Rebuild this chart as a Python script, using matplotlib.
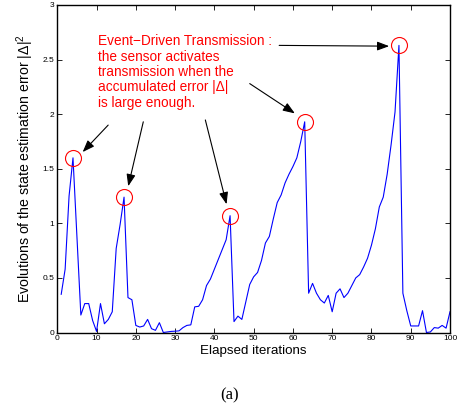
import matplotlib
matplotlib.use("Agg")
import matplotlib.pyplot as plt

plt.rcParams['font.family'] = ['Liberation Sans', 'DejaVu Sans']
plt.rcParams['mathtext.fontset'] = 'custom'
plt.rcParams['mathtext.rm'] = 'Liberation Sans'
plt.rcParams['mathtext.it'] = 'Liberation Sans:italic'

# ---- data ----
iterations = list(range(1, 101))
error_sq = [
    0.35, 0.58, 1.25, 1.60, 0.88, 0.16, 0.265, 0.265, 0.11, 0.01,
    0.265, 0.08, 0.12, 0.19, 0.77, 0.99, 1.24, 0.32, 0.30, 0.065,
    0.05, 0.06, 0.12, 0.035, 0.02, 0.09, 0.0, 0.005, 0.01, 0.012,
    0.015, 0.045, 0.065, 0.07, 0.235, 0.24, 0.30, 0.43, 0.49, 0.58,
    0.67, 0.76, 0.85, 1.07, 0.10, 0.15, 0.12, 0.28, 0.44, 0.51,
    0.55, 0.66, 0.82, 0.88, 1.04, 1.19, 1.26, 1.37, 1.45, 1.52,
    1.60, 1.75, 1.93, 0.36, 0.45, 0.36, 0.30, 0.27, 0.34, 0.19,
    0.36, 0.40, 0.32, 0.36, 0.43, 0.50, 0.53, 0.60, 0.68, 0.80,
    0.95, 1.15, 1.24, 1.45, 1.72, 2.02, 2.63, 0.36, 0.20, 0.06,
    0.06, 0.06, 0.20, 0.0, 0.005, 0.045, 0.04, 0.065, 0.04, 0.19,
]
transmission_iters = [4, 17, 44, 63, 87]

xticks = list(range(0, 101, 10))
yticks = [0, 0.5, 1, 1.5, 2, 2.5, 3]
ytick_labels = ['0', '0.5', '1', '1.5', '2', '2.5', '3']

annotation_text = ("Event\u2212Driven Transmission :\n"
                   "the sensor activates\n"
                   "transmission when the\n"
                   "accumulated error |\u0394|\n"
                   "is large enough.")
# arrow tails (near the text) and heads (near the circles), data coords
arrow_tails = [(12.96, 1.90), (21.9, 1.93), (37.7, 1.947), (49.0, 2.28), (56.5, 2.63)]
arrow_heads = [(6.46, 1.653), (18.07, 1.34), (43.1, 1.175), (60.5, 2.007), (84.5, 2.623)]

fig = plt.figure(figsize=(4.59, 4.13), dpi=100)
ax = fig.add_axes([0.1248, 0.1949, 0.8556, 0.7930])

ax.plot(iterations, error_sq, color='#0000ff', lw=0.8)

px = [iterations[i - 1] for i in transmission_iters]
py = [error_sq[i - 1] for i in transmission_iters]
ax.plot(px, py, 'o', mfc='none', mec='red', ms=11.5, mew=0.8, clip_on=False)

for (tx, ty), (hx, hy) in zip(arrow_tails, arrow_heads):
    ax.annotate('', xy=(hx, hy), xytext=(tx, ty),
                arrowprops=dict(arrowstyle='-|>,head_length=0.8,head_width=0.3',
                                color='k', lw=0.8, mutation_scale=9,
                                shrinkA=0, shrinkB=0))

ax.text(10.4, 2.385, annotation_text, color='red', fontsize=9.8,
        ha='left', va='center', linespacing=1.12)

ax.set_xlim(0, 100)
ax.set_ylim(0, 3)
ax.set_xticks(xticks)
ax.set_yticks(yticks)
ax.set_yticklabels(ytick_labels)
ax.tick_params(direction='in', top=True, right=True, length=3.5, width=0.6,
               labelsize=6, pad=2)
for sp in ax.spines.values():
    sp.set_linewidth(1.0)

ax.set_xlabel('Elapsed iterations', fontsize=9.6, labelpad=2)
ax.set_ylabel('Evolutions of the state estimation error |\u0394|$^2$', fontsize=10.2, labelpad=5)

fig.text(0.5, 0.042, '(a)', family='Liberation Serif', fontsize=12,
         ha='center', va='center')

fig.savefig('out.png', dpi=100)
